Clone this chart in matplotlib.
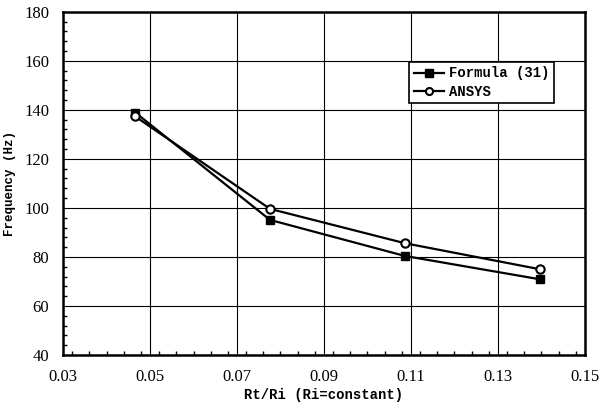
import matplotlib
matplotlib.use("Agg")
import matplotlib.pyplot as plt
from matplotlib.ticker import MultipleLocator

ratio = [0.0466, 0.0776, 0.1086, 0.1396]
formula = [138.9, 95.1, 80.4, 70.9]
ansys = [137.3, 99.6, 85.6, 75.0]
xticks = [0.03, 0.05, 0.07, 0.09, 0.11, 0.13, 0.15]
yticks = [40, 60, 80, 100, 120, 140, 160, 180]

fig = plt.figure(figsize=(6.01, 4.08), dpi=100)
ax = fig.add_axes([0.105, 0.130, 0.868, 0.841])

ax.plot(ratio, formula, color='black', lw=1.6, marker='s', ms=6,
        mfc='black', mec='black', label='Formula (31)', zorder=3)
ax.plot(ratio, ansys, color='black', lw=1.6, marker='o', ms=6,
        mfc='white', mec='black', mew=1.5, label='ANSYS', zorder=3)

ax.set_xlim(0.03, 0.15)
ax.set_ylim(40, 180)
ax.set_xticks(xticks)
ax.set_xticklabels([f"{t:.2f}" for t in xticks])
ax.set_yticks(yticks)
ax.xaxis.set_minor_locator(MultipleLocator(0.004))
ax.yaxis.set_minor_locator(MultipleLocator(4))
ax.grid(True, which='major', color='black', lw=0.8)
ax.tick_params(which='both', direction='in', top=False, right=False)
ax.tick_params(which='major', length=0, labelsize=12)
ax.tick_params(axis='x', which='major', pad=10)
ax.tick_params(axis='y', which='major', pad=10)
ax.tick_params(which='minor', length=3, width=1)
for lab in ax.get_xticklabels() + ax.get_yticklabels():
    lab.set_family('Liberation Serif')
for s in ax.spines.values():
    s.set_linewidth(1.8)

ax.set_xlabel('Rt/Ri (Ri=constant)', family='Liberation Mono', fontsize=10,
              fontweight='bold', labelpad=2)
ax.set_ylabel('Frequency (Hz)', family='Liberation Mono', fontsize=9,
              fontweight='bold', labelpad=6)

leg = ax.legend(loc='upper left', bbox_to_anchor=(0.663, 0.855),
                prop={'family': 'Liberation Mono', 'size': 10, 'weight': 'bold'},
                frameon=True, fancybox=False, edgecolor='black',
                framealpha=1, handlelength=2.2, borderpad=0.35,
                labelspacing=0.3, handletextpad=0.3, borderaxespad=0,
                markerscale=0.85)
leg.get_frame().set_linewidth(1.2)

fig.savefig('out.png', dpi=100)
